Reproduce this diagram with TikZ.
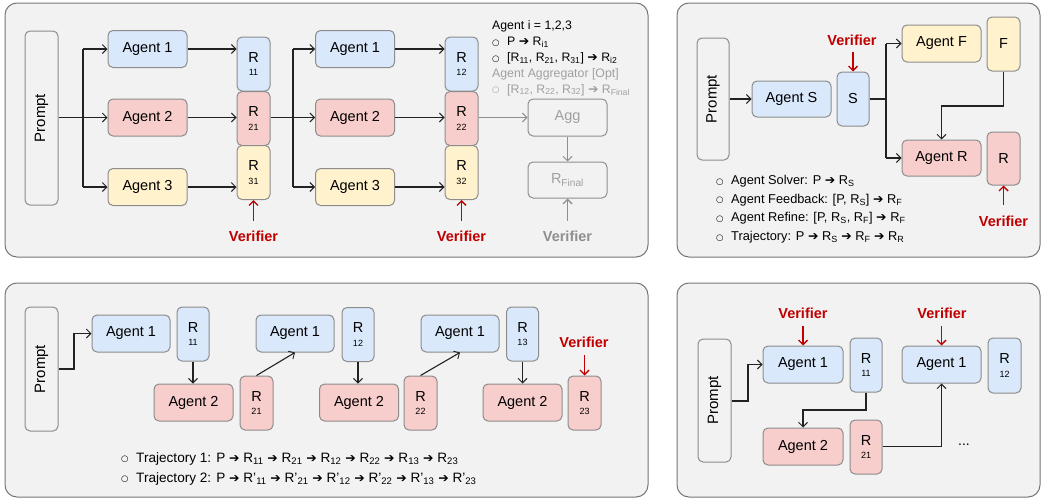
\documentclass[tikz,border=0pt]{standalone}
\usepackage{fontspec}
\usepackage{graphicx}
\setmainfont{Liberation Sans}
\newfontfamily\symfont{DejaVu Sans}
\usetikzlibrary{arrows.meta}

\definecolor{panelfill}{HTML}{F2F2F2}
\definecolor{panelline}{HTML}{777777}
\definecolor{boxline}{HTML}{8C8C8C}
\definecolor{linec}{HTML}{222222}
\definecolor{cblue}{HTML}{DAE8FC}
\definecolor{cred}{HTML}{F8CECC}
\definecolor{cyel}{HTML}{FFF2CC}
\definecolor{verired}{HTML}{C00000}
\definecolor{greyline}{HTML}{8F8F8F}
\definecolor{greytext}{HTML}{A0A0A0}

\newcommand\ra{{\symfont\fontsize{12.5}{12}\selectfont ➔}}
\newcommand\sub[1]{\textsubscript{#1}}
\newcommand\bul{\makebox[15pt][l]{\raisebox{0.5pt}{\symfont\fontsize{8.5}{9}\selectfont ○}}}

\tikzset{
  box/.style={draw=boxline, line width=1pt, rounded corners=5pt, inner sep=0pt},
  agent/.style={box, minimum width=79pt, minimum height=37pt,
    font=\fontsize{14.5}{17}\selectfont},
  resp/.style={box, minimum width=33pt, minimum height=54pt, align=center,
    font=\fontsize{14.5}{13.5}\selectfont},
  prompt/.style={box, fill=panelfill, minimum width=33pt,
    font=\fontsize{15}{17}\selectfont},
  panel/.style={draw=panelline, fill=panelfill, line width=1pt, rounded corners=12pt},
  fillb/.style={fill=cblue},
  fillr/.style={fill=cred},
  filly/.style={fill=cyel},
  link/.style={draw=linec, line width=1.1pt},
  conn/.style={link, -{Straight Barb[length=4.5pt,width=9pt,line width=0.9pt]}},
  greyconn/.style={draw=greyline, line width=1.1pt, -{Straight Barb[length=4.5pt,width=9pt,line width=0.9pt]}},
  verif/.style={font=\bfseries\fontsize{14.5}{17}\selectfont, text=verired, inner sep=0pt},
  verarrow/.style={draw=verired, line width=1.9pt, -{Straight Barb[length=4.5pt,width=9pt,line width=1.4pt]}},
  greyverarrow/.style={draw=greyline, line width=1.9pt, -{Straight Barb[length=4.5pt,width=9pt,line width=1.4pt]}},
  note/.style={anchor=base west, inner sep=0pt, font=\fontsize{12.3}{14}\selectfont},
  noteB/.style={note, font=\fontsize{12.8}{14}\selectfont},
  noteC/.style={note, font=\fontsize{13.6}{15}\selectfont},
}

\newcommand\rnum[1]{{\fontsize{9}{13.5}\selectfont #1}}

\begin{document}
\begin{tikzpicture}[x=1pt,y=-1pt]
\useasboundingbox (0,0) rectangle (1042,498);

% ---------- panels ----------
\draw[panel] (5,3) rectangle (648,257);
\draw[panel] (677,3) rectangle (1040,257);
\draw[panel] (5,283) rectangle (648,497);
\draw[panel] (677,283) rectangle (1040,497);

% ---------- parallel agents with two rounds ----------
\node[prompt, minimum height=174pt] (pA) at (41.5,118) {\rotatebox{90}{Prompt}};

\node[agent, fillb] (a1) at (147.5,49) {Agent 1};
\node[agent, fillr] (a2) at (147.5,117.5) {Agent 2};
\node[agent, filly] (a3) at (147.5,187) {Agent 3};

\node[resp, fillb] (r11) at (253.5,64) {R\\\rnum{11}};
\node[resp, fillr] (r21) at (253.5,118.5) {R\\\rnum{21}};
\node[resp, filly] (r31) at (253.5,172.5) {R\\\rnum{31}};

\node[agent, fillb] (b1) at (355,49) {Agent 1};
\node[agent, fillr] (b2) at (355,117.5) {Agent 2};
\node[agent, filly] (b3) at (355,187) {Agent 3};

\node[resp, fillb] (r12) at (461.5,64) {R\\\rnum{12}};
\node[resp, fillr] (r22) at (461.5,118.5) {R\\\rnum{22}};
\node[resp, filly] (r32) at (461.5,172.5) {R\\\rnum{32}};

\node[agent, draw=greyline, text=greytext] (agg) at (567.5,117.5) {Agg};
\node[agent, draw=greyline, text=greytext, minimum height=36pt] (rfin) at (567.5,180) {R\sub{Final}};

\coordinate (brA) at (83,117.5);
\coordinate (brB) at (293,117.5);
\draw[link] (pA.east |- a2) -- (brA);
\draw[link] (brA |- a1) -- (brA |- a3);
\draw[conn] (brA) -- (a2.west);
\draw[conn] (brA |- a1) -- (a1.west);
\draw[conn] (brA |- a3) -- (a3.west);

\draw[conn] (a1.east) -- (r11.west |- a1);
\draw[conn] (a2.east) -- (r21.west |- a2);
\draw[conn] (a3.east) -- (r31.west |- a3);

\draw[link] (r21.east |- b2) -- (brB);
\draw[link] (brB |- b1) -- (brB |- b3);
\draw[conn] (brB) -- (b2.west);
\draw[conn] (brB |- b1) -- (b1.west);
\draw[conn] (brB |- b3) -- (b3.west);

\draw[conn] (b1.east) -- (r12.west |- b1);
\draw[conn] (b2.east) -- (r22.west |- b2);
\draw[conn] (b3.east) -- (r32.west |- b3);

\draw[greyconn] (r22.east |- agg) -- (agg.west);
\draw[greyconn] (agg.south) -- (rfin.north);

\node[verif] (vA1) at (253.5,236) {Verifier};
\coordinate (vA1t) at (253.5,221);
\draw[verarrow] (vA1t) -- (r31.south);
\node[verif] (vA2) at (461.5,236) {Verifier};
\coordinate (vA2t) at (461.5,221);
\draw[verarrow] (vA2t) -- (r32.south);
\node[verif, text=greyline] (vA3) at (567.5,236) {Verifier};
\coordinate (vA3t) at (567.5,221);
\draw[greyverarrow] (vA3t) -- (rfin.south);

\node[note] at (492,29.5) {Agent i = 1,2,3};
\node[note] at (492,45.5) {\bul P \ra{} R\sub{i1}};
\node[note] at (492,61.5) {\bul [R\sub{11}, R\sub{21}, R\sub{31}] \ra{} R\sub{i2}};
\node[note, text=greytext] at (492,77) {Agent Aggregator [Opt]};
\node[note, text=greytext] at (492,93) {\bul [R\sub{12}, R\sub{22}, R\sub{32}] \ra{} R\sub{Final}};

% ---------- solver, feedback and refine ----------
\node[prompt, minimum height=122pt, minimum width=32pt] (pB) at (713,99) {\rotatebox{90}{Prompt}};
\node[agent, fillb, minimum height=36pt] (as) at (791.5,99) {Agent S};
\node[resp, fillb, minimum width=32pt] (s) at (853,99) {S};
\node[agent, filly] (af) at (941.5,43.5) {Agent F};
\node[resp, filly] (f) at (1003.5,44) {F};
\node[agent, fillr, minimum height=36pt] (ar) at (941.5,158) {Agent R};
\node[resp, fillr, minimum height=53pt] (rr) at (1003.5,158.5) {R};

\draw[conn] (pB.east) -- (as.west);
\coordinate (brC) at (886,99);
\draw[link] (s.east) -- (brC);
\draw[link] (brC |- af) -- (brC |- ar);
\draw[conn] (brC |- af) -- (af.west);
\draw[conn] (brC |- ar) -- (ar.west);
\coordinate (fb) at (1003.5,106);
\draw[conn] (f.south) -- (fb) -- (ar.north |- fb) -- (ar.north);

\node[verif] (vB1) at (852,40) {Verifier};
\coordinate (vB1t) at (853,52);
\draw[verarrow] (vB1t) -- (s.north);
\node[verif] (vB2) at (1003.5,221) {Verifier};
\coordinate (vB2t) at (1003.5,205);
\draw[verarrow] (vB2t) -- (rr.south);

\node[noteB] at (716,184.5) {\bul Agent Solver: P \ra{} R\sub{S}};
\node[noteB] at (716,203) {\bul Agent Feedback: [P, R\sub{S}] \ra{} R\sub{F}};
\node[noteB] at (716,221.5) {\bul Agent Refine: [P, R\sub{S}, R\sub{F}] \ra{} R\sub{F}};
\node[noteB] at (716,240.5) {\bul Trajectory: P \ra{} R\sub{S} \ra{} R\sub{F} \ra{} R\sub{R}};

% ---------- alternating debate chain ----------
\node[prompt, minimum height=124pt] (pC) at (41.5,369) {\rotatebox{90}{Prompt}};

\node[agent, fillb, minimum width=78pt] (c11) at (131,333.5) {Agent 1};
\node[resp, fillb, minimum width=32pt] (cr11) at (193,334) {R\\\rnum{11}};
\node[agent, fillr] (c21) at (193.5,402.5) {Agent 2};
\node[resp, fillr] (cr21) at (256.5,403) {R\\\rnum{21}};

\node[agent, fillb, minimum width=78pt] (c12) at (295,333.5) {Agent 1};
\node[resp, fillb, minimum width=32pt] (cr12) at (358,334.5) {R\\\rnum{12}};
\node[agent, fillr] (c22) at (359,402.5) {Agent 2};
\node[resp, fillr] (cr22) at (420.5,403) {R\\\rnum{22}};

\node[agent, fillb, minimum width=78pt] (c13) at (460,333.5) {Agent 1};
\node[resp, fillb, minimum width=32pt] (cr13) at (522.5,334) {R\\\rnum{13}};
\node[agent, fillr] (c23) at (522.5,402.5) {Agent 2};
\node[resp, fillr] (cr23) at (584.5,403) {R\\\rnum{23}};

\coordinate (brD) at (74,369);
\draw[conn] (pC.east |- brD) -- (brD) -- (brD |- c11) -- (c11.west);
\draw[conn] (cr11.south) -- (cr11.south |- c21.north);
\draw[conn] (cr21.north) -- (c12.south);
\draw[conn] (cr12.south) -- (cr12.south |- c22.north);
\draw[conn] (cr22.north) -- (c13.south);
\draw[conn] (cr13.south) -- (cr13.south |- c23.north);

\node[verif] (vC) at (584,342) {Verifier};
\coordinate (vCt) at (584.5,355);
\draw[verarrow] (vCt) -- (cr23.north);

\node[noteC] at (121,462) {\bul Trajectory 1: P \ra{} R\sub{11} \ra{} R\sub{21} \ra{} R\sub{12} \ra{} R\sub{22} \ra{} R\sub{13} \ra{} R\sub{23}};
\node[noteC] at (121,482) {\bul Trajectory 2: P \ra{} R’\sub{11} \ra{} R’\sub{21} \ra{} R’\sub{12} \ra{} R’\sub{22} \ra{} R’\sub{13} \ra{} R’\sub{23}};

% ---------- verified sequential chain ----------
\node[prompt, minimum height=123pt] (pD) at (714.5,400.5) {\rotatebox{90}{Prompt}};
\node[agent, fillb, minimum width=80pt] (d1) at (803,364.5) {Agent 1};
\node[resp, fillb, minimum width=32pt] (dr11) at (866,365) {R\\\rnum{11}};
\node[agent, fillr, minimum width=80pt] (d2) at (803,446.5) {Agent 2};
\node[resp, fillr, minimum width=32pt] (dr21) at (866,447) {R\\\rnum{21}};
\node[agent, fillb] (d3) at (941.5,364.5) {Agent 1};
\node[resp, fillb, minimum height=55pt] (dr12) at (1004.5,365.5) {R\\\rnum{12}};

\coordinate (brE) at (748,401);
\draw[conn] (pD.east |- brE) -- (brE) -- (brE |- d1) -- (d1.west);
\coordinate (brF) at (866,410);
\draw[conn] (dr11.south) -- (brF) -- (d2.north |- brF) -- (d2.north);
\draw[conn] (dr21.east |- d2) -- (d3.south |- d2) -- (d3.south);

\node[verif] (vD1) at (803,313) {Verifier};
\coordinate (vD1t) at (803,326);
\draw[verarrow] (vD1t) -- (d1.north);
\node[verif] (vD2) at (942,313) {Verifier};
\coordinate (vD2t) at (941.5,326);
\draw[verarrow] (vD2t) -- (d3.north);

\node[inner sep=0pt, font=\fontsize{14}{16}\selectfont] (dots) at (964,445) {...};

\end{tikzpicture}
\end{document}
